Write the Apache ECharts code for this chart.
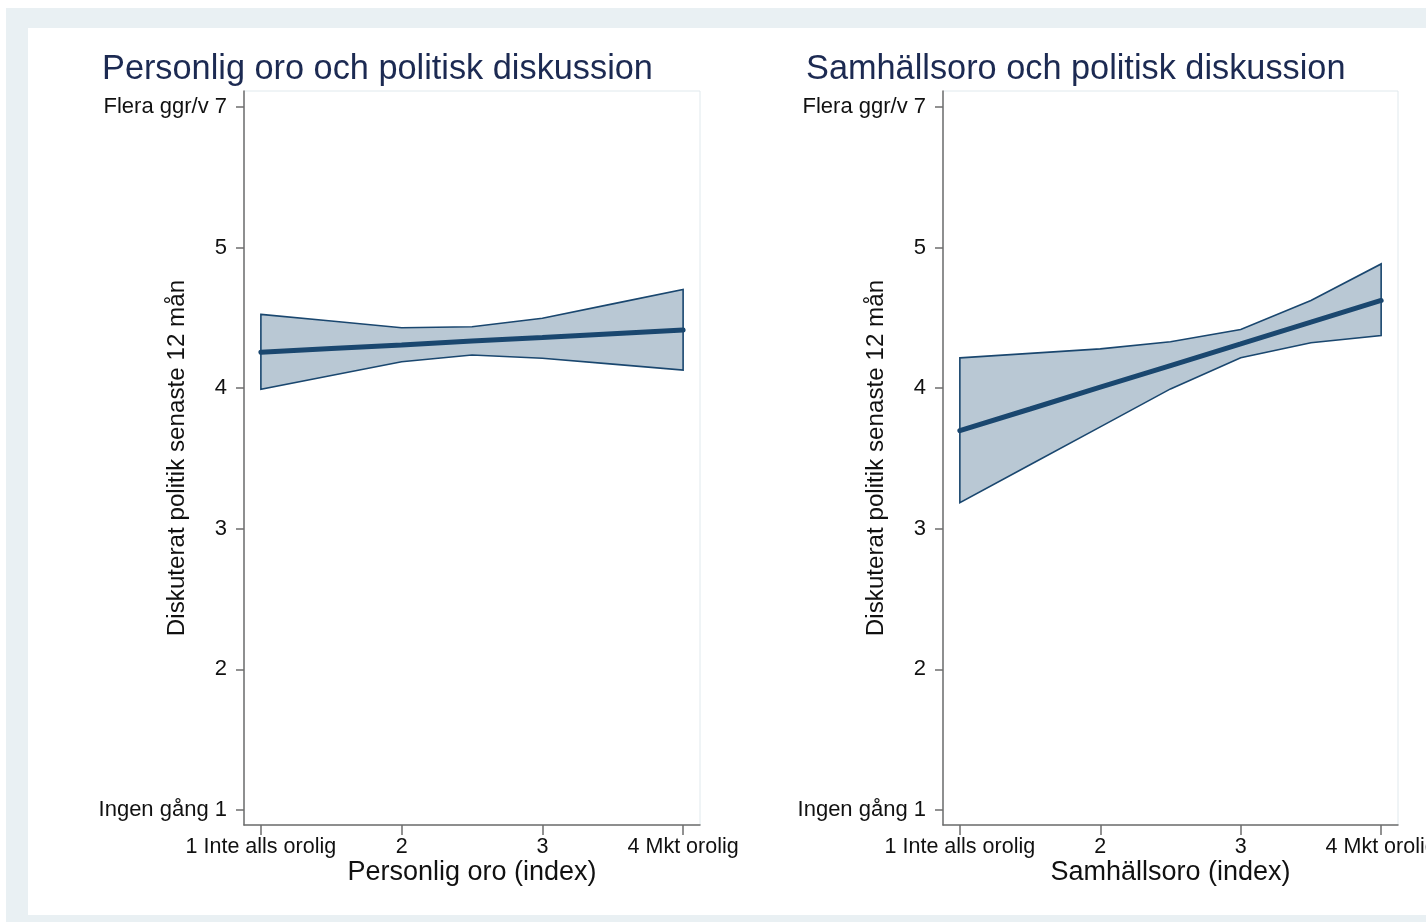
<!DOCTYPE html>
<html>
<head>
<meta charset="utf-8">
<script src="https://cdn.jsdelivr.net/npm/echarts@6/dist/echarts.min.js"></script>
<style>
  html, body { margin: 0; padding: 0; background: #ffffff; width: 1426px; height: 922px; overflow: hidden; }
  #frame { position: absolute; left: 6px; top: 8px; width: 1420px; height: 914px; background: #e9f0f3; }
  #inner { position: absolute; left: 28px; top: 28px; width: 1398px; height: 887px; background: #ffffff; }
  #chart { position: absolute; left: 0; top: 0; width: 1426px; height: 922px; }
</style>
</head>
<body>
<div id="frame"></div>
<div id="inner"></div>
<div id="chart"></div>
<script>
// ---- Data ----
const xKnots = [1, 1.5, 2, 2.5, 3, 3.5, 4];

const fitPersonal   = [4.255, 4.282, 4.308, 4.335, 4.361, 4.388, 4.414];
const upperPersonal = [4.525, 4.478, 4.430, 4.437, 4.497, 4.600, 4.703];
const lowerPersonal = [3.992, 4.090, 4.188, 4.236, 4.213, 4.171, 4.129];

const fitSociety   = [3.698, 3.852, 4.007, 4.161, 4.315, 4.470, 4.624];
const upperSociety = [4.216, 4.248, 4.280, 4.330, 4.417, 4.624, 4.884];
const lowerSociety = [3.186, 3.456, 3.725, 3.995, 4.216, 4.323, 4.375];

const xTickValues = [1, 2, 3, 4];
const xTickLabels = ['1 Inte alls orolig', '2', '3', '4 Mkt orolig'];
const yTickValues = [1, 2, 3, 4, 5, 6];
const yTickLabels = ['Ingen gång 1', '2', '3', '4', '5', 'Flera ggr/v 7'];

const titles = ['Personlig oro och politisk diskussion', 'Samhällsoro och politisk diskussion'];
const xTitles = ['Personlig oro (index)', 'Samhällsoro (index)'];
const yTitle = 'Diskuterat politik senaste 12 mån';

// ---- Styling ----
const FONT = '"Liberation Sans", Arial, sans-serif';
const NAVY = '#1a476f';
const FILL = '#b9c8d4';
const AXIS = '#6e6e6e';

function bandRenderer(lower, upper) {
  return function (params, api) {
    if (params.dataIndex !== 0) return;
    const pts = [];
    for (let i = 0; i < xKnots.length; i++) pts.push(api.coord([xKnots[i], upper[i]]));
    for (let i = xKnots.length - 1; i >= 0; i--) pts.push(api.coord([xKnots[i], lower[i]]));
    return {
      type: 'polygon',
      shape: { points: pts },
      style: { fill: FILL, stroke: NAVY, lineWidth: 1.6, lineJoin: 'miter' }
    };
  };
}

function xAxisDef(idx) {
  return {
    type: 'value', gridIndex: idx, min: 0.88, max: 4.12,
    name: xTitles[idx], nameLocation: 'middle', nameGap: 34, nameMoveOverlap: false,
    nameTextStyle: { fontFamily: FONT, fontSize: 27, color: '#111' },
    axisLine: { show: true, onZero: false, lineStyle: { color: AXIS, width: 1.5 } },
    axisTick: { show: true, customValues: xTickValues, length: 10, lineStyle: { color: AXIS, width: 1.5 } },
    axisLabel: {
      customValues: xTickValues, margin: 11, fontFamily: FONT, fontSize: 21.5, color: '#111',
      hideOverlap: false,
      formatter: v => xTickLabels[xTickValues.indexOf(v)]
    },
    splitLine: { show: false }
  };
}
function yAxisDef(idx) {
  return {
    type: 'value', gridIndex: idx, min: 0.893, max: 6.114,
    name: yTitle, nameLocation: 'middle', nameGap: 55, nameRotate: 90, nameMoveOverlap: false,
    nameTextStyle: { fontFamily: FONT, fontSize: 24.2, color: '#111' },
    axisLine: { show: true, onZero: false, lineStyle: { color: AXIS, width: 1.5 } },
    axisTick: { show: true, customValues: yTickValues, length: 8, lineStyle: { color: AXIS, width: 1.5 } },
    axisLabel: {
      customValues: yTickValues, margin: 17, fontFamily: FONT, fontSize: 22, color: '#111',
      hideOverlap: false,
      formatter: v => yTickLabels[yTickValues.indexOf(v)]
    },
    splitLine: { show: false }
  };
}

const chart = echarts.init(document.getElementById('chart'), null, { renderer: 'canvas' });
chart.setOption({
  animation: false,
  backgroundColor: 'transparent',
  title: [
    { text: titles[0], left: 97, top: 48, textStyle: { fontFamily: FONT, fontSize: 34.3, fontWeight: 'normal', color: '#1c2a52' } },
    { text: titles[1], left: 801, top: 48, textStyle: { fontFamily: FONT, fontSize: 34.3, fontWeight: 'normal', color: '#1c2a52' } }
  ],
  grid: [
    { left: 244, top: 91, width: 456, height: 734, outerBoundsMode: 'none', containLabel: false, show: true, borderColor: '#e0e9ed', borderWidth: 1, backgroundColor: 'transparent' },
    { left: 943, top: 91, width: 455, height: 734, outerBoundsMode: 'none', containLabel: false, show: true, borderColor: '#e0e9ed', borderWidth: 1, backgroundColor: 'transparent' }
  ],
  xAxis: [xAxisDef(0), xAxisDef(1)],
  yAxis: [yAxisDef(0), yAxisDef(1)],
  series: [
    {
      type: 'custom', xAxisIndex: 0, yAxisIndex: 0, z: 2,
      renderItem: bandRenderer(lowerPersonal, upperPersonal),
      data: xKnots.map((x, i) => [x, lowerPersonal[i], upperPersonal[i]]),
      encode: { x: 0, y: [1, 2] }
    },
    {
      type: 'line', xAxisIndex: 0, yAxisIndex: 0, z: 3, showSymbol: false,
      data: xKnots.map((x, i) => [x, fitPersonal[i]]),
      lineStyle: { color: NAVY, width: 5, cap: 'round' }, itemStyle: { color: NAVY }
    },
    {
      type: 'custom', xAxisIndex: 1, yAxisIndex: 1, z: 2,
      renderItem: bandRenderer(lowerSociety, upperSociety),
      data: xKnots.map((x, i) => [x, lowerSociety[i], upperSociety[i]]),
      encode: { x: 0, y: [1, 2] }
    },
    {
      type: 'line', xAxisIndex: 1, yAxisIndex: 1, z: 3, showSymbol: false,
      data: xKnots.map((x, i) => [x, fitSociety[i]]),
      lineStyle: { color: NAVY, width: 5, cap: 'round' }, itemStyle: { color: NAVY }
    }
  ]
});
</script>
</body>
</html>
